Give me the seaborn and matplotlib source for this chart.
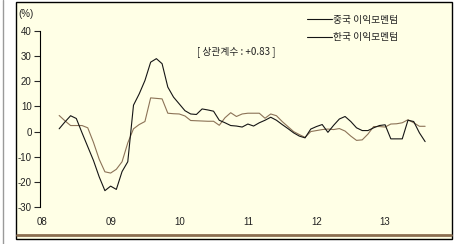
import numpy as np
import pandas as pd
import matplotlib
matplotlib.use("Agg")
import matplotlib.pyplot as plt
import seaborn as sns
from matplotlib.lines import Line2D
from matplotlib.patches import Rectangle

# ---- data (monthly, Apr 2008 - Aug 2013) ----
start_month = "2008-04"
series_black_name = "중국 이익모멘텀"
series_brown_name = "한국 이익모멘텀"
black = [1.1, 3.8, 6.3, 5.2, -0.5, -6, -11.5, -18, -23.5, -21.7,
         -23.0, -15.9, -12.0, 10.5, 15.0, 20.3, 27.6, 29.0, 27.0, 17.7,
         13.7, 11, 8.3, 7, 6.8, 9, 8.6, 8.1, 4.5, 3.5,
         2.4, 2.2, 1.8, 3.0, 2.2, 3.5, 4.5, 5.7, 4.5, 2.8,
         1.2, -0.5, -1.8, -2.5, 1.0, 2.0, 2.8, -0.3, 2.5, 5.0,
         6.0, 4.0, 1.5, 0.4, 0.4, 1.5, 2.4, 2.7, -2.9, -2.9,
         -2.9, 4.5, 4.0, -0.5, -4.0]
brown = [6.4, 4.3, 2.4, 2.4, 2.4, 1.5, -4.3, -11, -16, -16.5,
         -15, -12, -4.5, 1.1, 2.8, 4, 13.4, 13.2, 13, 7.3,
         7.1, 7, 6.2, 4.4, 4.3, 4.2, 4.1, 4.1, 2.5, 5.5,
         7.5, 6.0, 7.0, 7.3, 7.3, 7.3, 5.3, 7.0, 6.3, 4.0,
         2.0, 0, -1.2, -2.3, 0, 0.4, 0.8, 1.0, 0.8, 1.2,
         0.2, -1.8, -3.5, -3.3, -1.0, 2.0, 2.0, 1.8, 3.0, 3.1,
         3.5, 4.7, 3.5, 2.1, 2.1]
year_labels = ["08", "09", "10", "11", "12", "13"]
y_ticks = [-30, -20, -10, 0, 10, 20, 30, 40]
annotation = "[ 상관계수 : +0.83 ]"

dates = pd.date_range(start_month, periods=len(black), freq="MS")
month_idx = (dates.year - 2008) * 12 + (dates.month - 1)
df = pd.DataFrame({"m": month_idx, "black": black, "brown": brown})

sns.set_style("white")
plt.rcParams["font.family"] = ["Liberation Sans", "Noto Sans CJK KR", "DejaVu Sans"]

W, H = 469, 244
fig = plt.figure(figsize=(W / 100, H / 100), dpi=100)
fig.patch.set_facecolor("white")

# panel background & border
fig.patches.append(Rectangle((16 / W, 1 - 239 / H), 436 / W, 237 / H,
                             transform=fig.transFigure, facecolor="#FFFFE6",
                             edgecolor="black", linewidth=1.0, zorder=-5))
fig.lines.append(Line2D([17 / W, 451 / W], [1 - 234.5 / H, 1 - 234.5 / H],
                        transform=fig.transFigure, color="#8B6E50", linewidth=2.0, zorder=-4))
fig.lines.append(Line2D([2.5 / W, 2.5 / W], [0, 1], transform=fig.transFigure,
                        color="#9a9a9a", linewidth=1.0, zorder=-4))

ax = fig.add_axes([40 / W, 1 - 207 / H, 400 / W, 176 / H])
ax.set_zorder(2)
ax.set_facecolor("none")

sns.lineplot(data=df, x="m", y="brown", ax=ax, color="#8C7357", linewidth=0.8)
sns.lineplot(data=df, x="m", y="black", ax=ax, color="#151515", linewidth=0.8)

ax.set_xlim(-0.35, 69.6)
ax.set_ylim(-30, 40)
ax.set_yticks(y_ticks)
ax.set_yticklabels([str(v) for v in y_ticks], fontsize=7, color="#222222")
ax.set_xticks([i * 12 for i in range(len(year_labels))])
ax.set_xticklabels(year_labels, fontsize=7, color="#222222")
ax.tick_params(axis="y", which="both", left=True, length=4, width=0.8, pad=2, direction="out")
ax.tick_params(axis="x", which="both", bottom=False, length=0, pad=7)
for s in ["top", "right", "bottom"]:
    ax.spines[s].set_visible(False)
ax.spines["left"].set_color("black")
ax.spines["left"].set_linewidth(0.8)
ax.set_xlabel("")
ax.set_ylabel("")

fig.text(26 / W, 1 - 14 / H, "(%)", fontsize=7, ha="center", va="center", color="#222222")
fig.text(236 / W, 1 - 52 / H, annotation, fontsize=7, ha="center", va="center",
         color="#222222", family=["Noto Sans CJK KR", "DejaVu Sans"])

handles = [Line2D([], [], color="#151515", linewidth=0.8),
           Line2D([], [], color="#151515", linewidth=0.8)]
leg = fig.legend(handles, [series_black_name, series_brown_name],
                 loc="upper left", bbox_to_anchor=(298 / W, 1 - 6 / H),
                 frameon=False, handlelength=2.6, handletextpad=0.1,
                 labelspacing=0.75,
                 prop={"family": ["Noto Sans CJK KR", "DejaVu Sans"], "size": 7})
for t in leg.get_texts():
    t.set_color("#222222")

fig.savefig("out.png", dpi=100, facecolor="white")
